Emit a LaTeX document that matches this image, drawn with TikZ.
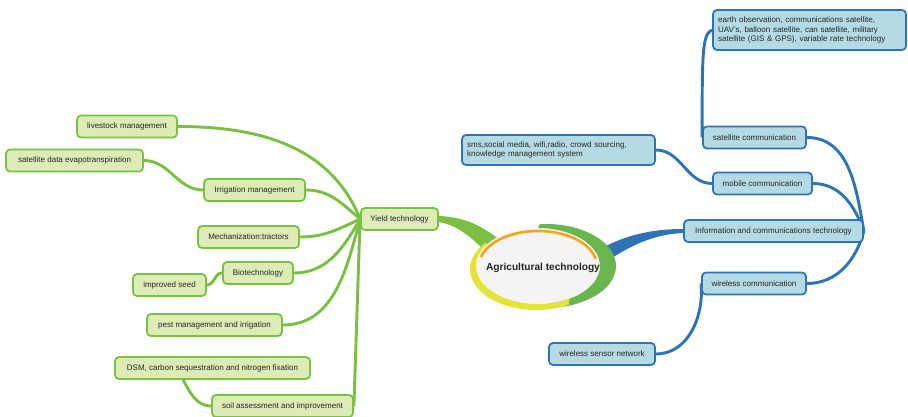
\documentclass[tikz,border=0pt]{standalone}
\usepackage{fontspec}
\setmainfont{Liberation Sans}
\usetikzlibrary{backgrounds,calc}
\definecolor{leafgreen}{HTML}{7CBF45}
\definecolor{leaffill}{HTML}{DDEBB6}
\definecolor{ringgreen}{HTML}{6BB54F}
\definecolor{ringyellow}{HTML}{E4E33C}
\definecolor{ringorange}{HTML}{F2A520}
\definecolor{seablue}{HTML}{2E74B4}
\definecolor{seafill}{HTML}{B4DAE3}
\definecolor{eggwhite}{HTML}{F6F3F3}

\begin{document}
\begin{tikzpicture}[x=0.75pt,y=0.75pt,
    gbox/.style={draw=leafgreen,fill=leaffill,line width=1.3pt,rounded corners=3pt,
      minimum height=16.5pt,inner sep=2pt,text=black!85,font=\fontsize{6}{7.2}\selectfont},
    bbox/.style={gbox,draw=seablue,fill=seafill},
    glink/.style={leafgreen,line width=2.2pt},
    blink/.style={seablue,line width=2.2pt}]
  \useasboundingbox (0,0) rectangle (908,-417);

  \fill[eggwhite] (538,-266) ellipse [x radius=62,y radius=38];
  \fill[ringgreen] (546,-266) ++(95:70 and 42) arc[start angle=95,end angle=-85,x radius=70,y radius=42]
    -- ($(538,-266)+(-80:62 and 38)$) arc[start angle=-80,end angle=90,x radius=62,y radius=38] -- cycle;
  \fill[ringyellow] (536,-269) ++(140:66 and 41) arc[start angle=140,end angle=300,x radius=66,y radius=41]
    -- ($(538,-266)+(300:62 and 38)$) arc[start angle=300,end angle=145,x radius=62,y radius=38] -- cycle;
  \draw[ringorange,line width=2pt] (538,-266) ++(165:59 and 35)
    arc[start angle=165,end angle=12,x radius=59,y radius=35];
  \node[font=\bfseries\fontsize{7.6}{9}\selectfont,text=black!85] (agri) at (543,-268) {Agricultural technology};

  \node[gbox,minimum width=57.75pt] (yield) at (399.5,-219) {Yield technology};
  \node[gbox,minimum width=75pt] (live) at (127,-126.5) {livestock management};
  \node[gbox,minimum width=102.75pt] (satdata) at (74.5,-160.5) {satellite data evapotranspiration};
  \node[gbox,minimum width=75.75pt] (irrig) at (254.5,-190) {Irrigation management};
  \node[gbox,minimum width=75.75pt] (mech) at (248.5,-237) {Mechanization:tractors};
  \node[gbox,minimum width=52.5pt] (biotech) at (258,-273) {Biotechnology};
  \node[gbox,minimum width=54.75pt] (seed) at (169.5,-285) {improved seed};
  \node[gbox,minimum width=101.25pt] (pest) at (214.5,-325) {pest management and irrigation};
  \node[gbox,minimum width=146.25pt] (dsm) at (212.5,-368) {DSM, carbon sequestration and nitrogen fixation};
  \node[gbox,minimum width=105.75pt] (soil) at (282.5,-406) {soil assessment and improvement};

  \node[bbox,minimum width=134.25pt] (ict) at (773.5,-231) {Information and communications technology};
  \node[bbox,minimum width=77.25pt] (satcom) at (754.5,-137.5) {satellite communication};
  \node[bbox,minimum width=144.75pt,minimum height=30pt,align=left,text width=137pt] (earth) at (809.5,-30)
    {earth observation, communications satellite,\\UAV's, balloon satellite, can satellite, military\\satellite (GIS \& GPS), variable rate technology};
  \node[bbox,minimum width=74.25pt] (mobile) at (762.5,-183.5) {mobile communication};
  \node[bbox,minimum width=144.75pt,minimum height=22.5pt,align=left,text width=137pt] (sms) at (558.5,-150)
    {sms,social media, wifi,radio, crowd sourcing,\\knowledge management system};
  \node[bbox,minimum width=78pt] (wireless) at (754,-283.5) {wireless communication};
  \node[bbox,minimum width=79.5pt] (wsn) at (602,-354) {wireless sensor network};

  \begin{scope}[on background layer]
    \draw[glink] (live.east) to[out=0,in=112] (yield.west);
    \draw[glink] (satdata.east) to[out=0,in=180] (irrig.west);
    \draw[glink] (irrig.east) to[out=0,in=140] (yield.west);
    \draw[glink] (mech.east) to[out=0,in=205] (yield.west);
    \draw[glink] (biotech.east) to[out=0,in=240] (yield.west);
    \draw[glink] (seed.east) to[out=0,in=180] (biotech.west);
    \draw[glink] (pest.east) to[out=0,in=255] (yield.west);
    \draw[glink] (soil.east) to[out=88,in=268] (yield.west);
    \draw[glink] ($(dsm.south west)!0.35!(dsm.south east)$) to[out=-60,in=180] (soil.west);

    \draw[blink] (satcom.east) to[out=0,in=100] (ict.east);
    \draw[blink] (mobile.east) to[out=0,in=110] (ict.east);
    \draw[blink] (wireless.east) to[out=0,in=255] (ict.east);
    \draw[blink] (sms.east) to[out=0,in=180] (mobile.west);
    \draw[blink] (wsn.east) to[out=0,in=-85] (wireless.west);
    \draw[blink] (satcom.west) .. controls +(0,85) and +(-10,-4) .. (earth.west);

    \fill[leafgreen] (yield.east) ++(0,3) .. controls (465,-217) and (482,-226) .. (500,-240)
      -- (484,-250) .. controls (470,-236) and (455,-224) .. (438,-222) -- cycle;
    \fill[seablue] (ict.west) ++(0,2) .. controls (650,-229) and (625,-236) .. (604,-247)
      -- (612,-258) .. controls (632,-245) and (655,-234) .. (684,-233) -- cycle;
  \end{scope}
\end{tikzpicture}
\end{document}
